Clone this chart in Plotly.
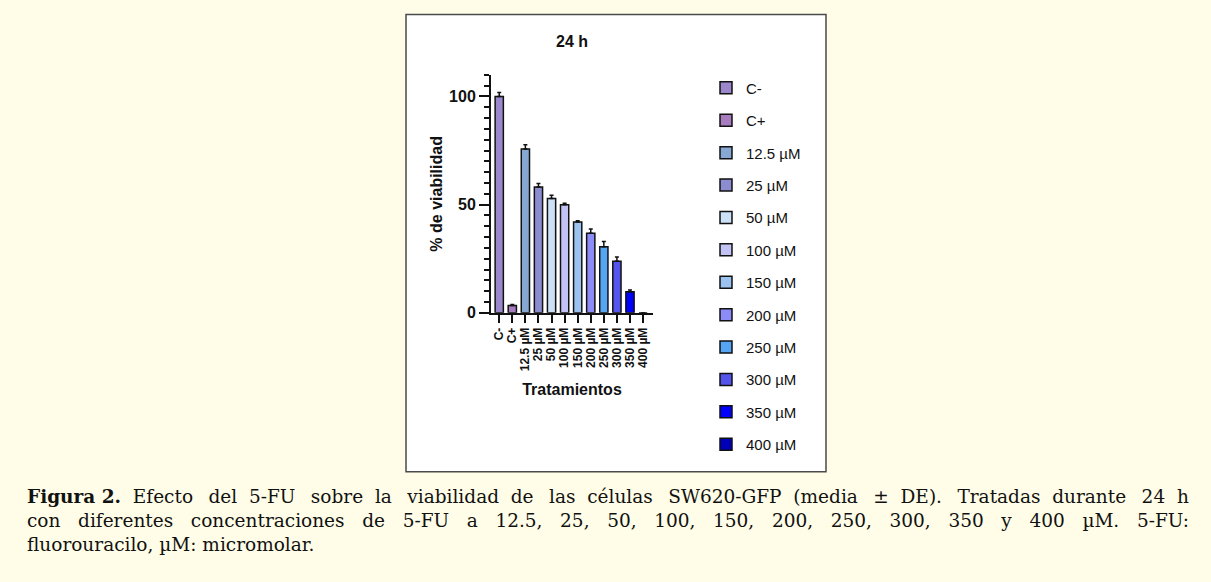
import plotly.graph_objects as go

W, H = 1211, 582      # reference frame (all positions below are in this frame)
FIG_H = 592           # page is photographed a bit taller and squeezed back to 582

categories = ["C-", "C+", "12.5 µM", "25 µM", "50 µM", "100 µM", "150 µM",
              "200 µM", "250 µM", "300 µM", "350 µM", "400 µM"]
viability = [100, 3.4, 75.7, 58.2, 52.8, 50.0, 42.0, 36.8, 30.6, 23.8, 9.8, 0]
sd = [1.8, 0.5, 2.0, 1.6, 1.6, 0.6, 0.6, 2.0, 2.4, 2.0, 0.8, 0]
colors = ["#9B88CC", "#A87DC0", "#88A8D4", "#8C8CD0", "#CCE0F8", "#C2C2F5",
          "#9CC3F0", "#8C8CF8", "#55A5F5", "#5555EE", "#0000FF", "#0000BB"]

T = "\u2009"
caption_lines = [
    "<b>Figura 2.</b>  Efecto " + T + " del  5-FU " + T + " sobre  la " + T + " viabilidad  de " + T +
    " las  células " + T + " SW620-GFP  (media " + T + " ±  DE). " + T + " Tratadas  durante " + T +
    " 24  h",
    "con   diferentes   concentraciones   de   5-FU   a   12.5,   25,   50,   100,   150,   200,   250,   300,   350   y   400   µM.   5-FU:",
    "fluorouracilo, µM: micromolar.",
]

def px(x):
    return x / W

def py(y):
    return 1 - y / H

fig = go.Figure()
for i, (cat, val, err, col) in enumerate(zip(categories, viability, sd, colors)):
    fig.add_trace(go.Bar(
        x=[i], y=[val], name=cat, legendgroup=cat,
        marker=dict(color=col, line=dict(color="#111111", width=1.5)),
        width=0.63,
        error_y=dict(type="data", array=[err], arrayminus=[0], symmetric=False,
                     color="#111111", thickness=1.5, width=2),
    ))

ARIAL = "Liberation Sans, Arial"

fig.update_layout(
    width=W, height=FIG_H,
    margin=dict(l=0, r=0, t=0, b=0),
    paper_bgcolor="#FFFDE7",
    plot_bgcolor="rgba(0,0,0,0)",
    barmode="overlay",
    showlegend=True,
    legend=dict(x=px(706), y=py(71.5), xanchor="left", yanchor="top",
                font=dict(family=ARIAL, size=15, color="#111111"),
                tracegroupgap=9.9, bgcolor="rgba(0,0,0,0)"),
    title=dict(text="<b>24 h</b>", x=px(572), y=py(41), xanchor="center", yanchor="middle",
               xref="paper", yref="paper",
               font=dict(family=ARIAL, size=16, color="#111111")),
    xaxis=dict(domain=[px(491), px(653)], range=[-0.63, 11.76],
               tickmode="array", tickvals=list(range(len(categories))),
               ticktext=["<b>%s</b>" % c for c in categories],
               tickangle=-90, ticks="outside", ticklen=8, tickwidth=2, tickcolor="#111111",
               tickfont=dict(family=ARIAL, size=12, color="#111111"),
               showline=True, linecolor="#111111", linewidth=2,
               showgrid=False, zeroline=False,
               title=dict(text="<b>Tratamientos</b>", standoff=14,
                          font=dict(family=ARIAL, size=16, color="#111111"))),
    yaxis=dict(domain=[py(312.3), py(74.7)], range=[0, 110],
               tickmode="array", tickvals=[0, 50, 100],
               ticktext=["<b>0</b>", "<b>50</b>", "<b>100</b>"],
               ticks="outside", ticklen=10, tickwidth=2, tickcolor="#111111",
               tickfont=dict(family=ARIAL, size=16, color="#111111"),
               minor=dict(tickmode="linear", tick0=0, dtick=5, ticks="outside",
                          ticklen=5, tickwidth=2, tickcolor="#111111", showgrid=False),
               showline=True, linecolor="#111111", linewidth=2,
               showgrid=False, zeroline=False,
               title=dict(text="<b>% de viabilidad</b>", standoff=2,
                          font=dict(family=ARIAL, size=16, color="#111111"))),
)

# white figure frame
fig.add_shape(type="rect", xref="paper", yref="paper",
              x0=px(406), x1=px(826), y0=py(471), y1=py(14.5),
              fillcolor="white", line=dict(color="#4A4A4A", width=1.5), layer="below")

# caption (one text block, justified by extra spaces)
fig.add_annotation(text="<br>".join(caption_lines), xref="paper", yref="paper",
                   x=px(25), y=py(483.5), xanchor="left", yanchor="top", align="left",
                   showarrow=False,
                   font=dict(family="DejaVu Serif", size=18.5, color="#111111"))

fig.write_html("out.html",
               config={"displayModeBar": False},
               post_script=("var de=document.documentElement,b=document.body;"
                            "de.style.margin='0';b.style.margin='0';"
                            "de.style.height='%dpx';b.style.height='%dpx';"
                            "de.style.overflow='hidden';b.style.overflow='hidden';"
                            "b.style.background='#FFFDE7';"
                            "Array.prototype.forEach.call(b.children,function(d){"
                            "d.style.lineHeight='0';d.style.fontSize='0';});") % (FIG_H, FIG_H))
